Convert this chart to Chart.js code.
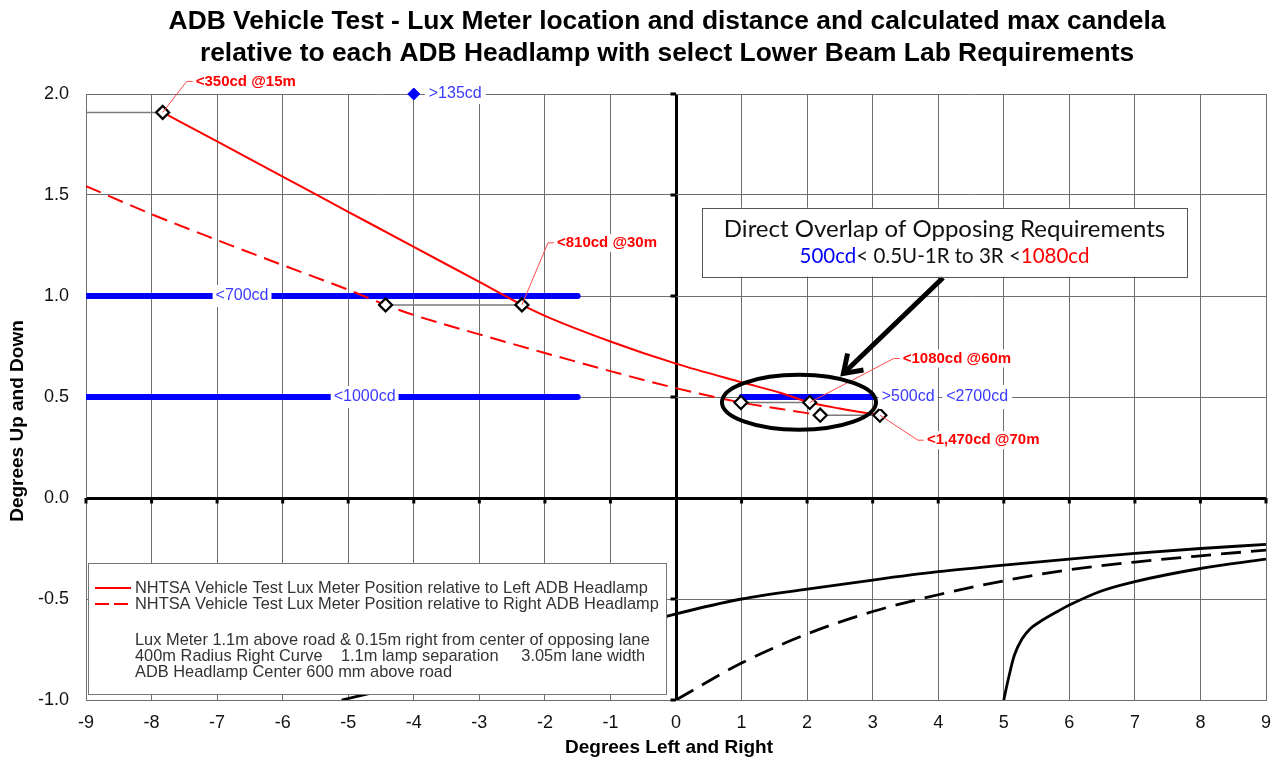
<!DOCTYPE html>
<html>
<head>
<meta charset="utf-8">
<title>ADB Vehicle Test - Lux Meter location</title>
<script src="https://cdn.jsdelivr.net/npm/chart.js@4.4.1/dist/chart.umd.min.js"></script>
<style>
  html, body { margin: 0; padding: 0; background: #fff; overflow: hidden; }
  #wrap { position: relative; width: 1279px; height: 762px; }
</style>
</head>
<body>
<div id="wrap"><canvas id="chart"></canvas></div>
<script>
// ---- axis ticks (degrees) ----
const xTickValues = [-9, -8, -7, -6, -5, -4, -3, -2, -1, 0, 1, 2, 3, 4, 5, 6, 7, 8, 9];
const yTickValues = [-1.0, -0.5, 0.0, 0.5, 1.0, 1.5, 2.0];

// ---- lux meter path relative to the left ADB headlamp (deg L/R, deg U/D) ----
const leftLampX = [-7.83, -7, -6, -5, -4, -3, -2.35, -2, -1, 0, 1, 1.6, 2.04, 2.5, 3.11];
const leftLampY = [1.909, 1.765, 1.591, 1.417, 1.243, 1.07, 0.956, 0.902, 0.775, 0.665, 0.573, 0.52, 0.473, 0.443, 0.41];

// ---- lux meter path relative to the right ADB headlamp ----
const rightLampX = [-9, -8, -7, -6, -5, -4.43, -4, -3, -2, -1, 0, 0.99, 1.6, 2.2];
const rightLampY = [1.544, 1.405, 1.277, 1.153, 1.031, 0.956, 0.906, 0.81, 0.718, 0.628, 0.544, 0.473, 0.441, 0.41];

// ---- measurement distances: meter position seen from each lamp ----
const meterDistances = ['15m', '30m', '60m', '70m'];
const meterMaxCd = ['<350cd', '<810cd', '<1080cd', '<1,470cd'];
const meterLeftX = [-7.83, -2.35, 2.04, 3.11];
const meterRightX = [-12.0, -4.43, 0.99, 2.2];
const meterY = [1.909, 0.956, 0.473, 0.41];

// ---- selected lower beam lab requirements ----
const reqSegText = ['<700cd', '<1000cd', '>500cd'];
const reqSegFromX = [-9, -9, 1];
const reqSegToX = [-1.5, -1.5, 3];
const reqSegY = [1.0, 0.5, 0.5];
const reqPointText = ['>135cd', '<2700cd'];
const reqPointX = [-4, 4.0];
const reqPointY = [2.0, 0.5];

// ---- black reference curves below the horizon ----
const curveAX = [-5.1, -4, -3, -2, -1, 0, 1, 2, 3, 4, 5, 6, 7, 8, 9];
const curveAY = [-1.0, -0.915, -0.835, -0.752, -0.664, -0.574, -0.5, -0.451, -0.406, -0.365, -0.332, -0.303, -0.274, -0.25, -0.23];
const curveBX = [0, 1, 2, 3, 4, 5, 6, 7, 8, 9];
const curveBY = [-1.0, -0.817, -0.673, -0.562, -0.479, -0.41, -0.355, -0.317, -0.286, -0.258];
const curveCX = [5, 5.07, 5.16, 5.28, 5.4, 5.54, 5.84, 6, 6.5, 7, 8, 9];
const curveCY = [-1.0, -0.895, -0.78, -0.697, -0.648, -0.615, -0.558, -0.53, -0.459, -0.414, -0.349, -0.303];

const legendText = [
  'NHTSA Vehicle Test Lux Meter Position relative to Left ADB Headlamp',
  'NHTSA Vehicle Test Lux Meter Position relative to Right ADB Headlamp'
];
const noteLines = [
  'Lux Meter 1.1m above road & 0.15m right from center of opposing lane',
  '400m Radius Right Curve    1.1m lamp separation     3.05m lane width',
  'ADB Headlamp Center 600 mm above road'
];

const ARIAL = 'Arial, "Liberation Sans", Helvetica, sans-serif';
const CALLOUT = 'Lato, "Open Sans", sans-serif';
const RED = '#ff0000';
const BLUE = '#0000ff';
const BLUE_TEXT = '#3a3aff';

const pts = (xs, ys) => xs.map((x, i) => ({ x, y: ys[i] }));

const datasets = [];
// meter pairs with diamond markers
meterDistances.forEach((d, i) => {
  datasets.push({
    label: 'Meter @' + d,
    data: [{ x: meterRightX[i], y: meterY[i] }, { x: meterLeftX[i], y: meterY[i] }],
    showLine: true, borderColor: '#7a7a7a', borderWidth: 1.5,
    pointStyle: 'rectRot', pointRadius: 6.5, pointBorderWidth: 2.2,
    pointBorderColor: '#000', pointBackgroundColor: '#fff', order: 0
  });
});
datasets.push({
  label: legendText[0], data: pts(leftLampX, leftLampY), showLine: true,
  borderColor: RED, borderWidth: 2, pointRadius: 0, cubicInterpolationMode: 'monotone', order: 1
});
datasets.push({
  label: legendText[1], data: pts(rightLampX, rightLampY), showLine: true,
  borderColor: RED, borderWidth: 2, borderDash: [16, 8], pointRadius: 0, cubicInterpolationMode: 'monotone', order: 1
});
reqSegText.forEach((t, i) => {
  datasets.push({
    label: t, data: [{ x: reqSegFromX[i], y: reqSegY[i] }, { x: reqSegToX[i], y: reqSegY[i] }],
    showLine: true, borderColor: BLUE, borderWidth: 6, borderCapStyle: 'round', pointRadius: 0, order: 2
  });
});
datasets.push({
  label: reqPointText[0], data: [{ x: reqPointX[0], y: reqPointY[0] }],
  pointStyle: 'rectRot', pointRadius: 6, pointBackgroundColor: BLUE, pointBorderColor: BLUE, clip: false, order: 0
});
datasets.push({
  label: reqPointText[1], data: [{ x: reqPointX[1], y: reqPointY[1] }], pointRadius: 0, order: 0
});
datasets.push({ label: 'A', data: pts(curveAX, curveAY), showLine: true, borderColor: '#000', borderWidth: 2.8, pointRadius: 0, cubicInterpolationMode: 'monotone', order: 3 });
datasets.push({ label: 'B', data: pts(curveBX, curveBY), showLine: true, borderColor: '#000', borderWidth: 2.8, borderDash: [20, 10], pointRadius: 0, cubicInterpolationMode: 'monotone', order: 3 });
datasets.push({ label: 'C', data: pts(curveCX, curveCY), showLine: true, borderColor: '#000', borderWidth: 2.8, pointRadius: 0, cubicInterpolationMode: 'monotone', order: 3 });

function boxedText(ctx, text, x, y, align, font, color, padX, h) {
  ctx.font = font;
  const w = ctx.measureText(text).width;
  const left = align === 'left' ? x : x - w / 2;
  ctx.fillStyle = '#fff';
  ctx.fillRect(left - padX, y - h / 2, w + 2 * padX, h);
  ctx.fillStyle = color;
  ctx.textAlign = 'left';
  ctx.textBaseline = 'middle';
  ctx.fillText(text, left, y);
}

// label / annotation layout
const layoutOpts = {
  segLabelX: [-6.62, -4.75, null],
  meterLeader: [[24, -31], [26, -62], [84, -44], [38, 25]],
  ellipse: { x: 1.876, y: 0.474, rx: 1.175, ry: 0.136 },
  callout: { x1: 0.397, y1: 1.437, x2: 7.795, y2: 1.096 },
  arrow: { fx: 4.073, fy: 1.09, tx: 2.532, ty: 0.61 },
  legendBox: { x1: -8.97, y1: -0.32, x2: -0.15, y2: -0.97 }
};

const overlay = {
  id: 'overlay',
  beforeDatasetsDraw(chart) {
    const { ctx, scales: { x, y } } = chart;
    const x0 = x.getPixelForValue(0), y0 = y.getPixelForValue(0);
    ctx.save();
    ctx.fillStyle = '#000';
    xTickValues.forEach(v => { if (v !== 0) ctx.fillRect(x.getPixelForValue(v) - 1.5, y0, 3, 5.5); });
    yTickValues.forEach(v => { if (v !== 0) ctx.fillRect(x0 - 5.5, y.getPixelForValue(v) - 1.5, 5.5, 3); });
    ctx.restore();
  },
  afterDatasetsDraw(chart) {
    const { ctx, scales: { x, y } } = chart;
    const X = v => x.getPixelForValue(v), Y = v => y.getPixelForValue(v);
    ctx.save();

    // red leader lines and max candela labels
    meterDistances.forEach((d, i) => {
      const mx = X(meterLeftX[i]), my = Y(meterY[i]);
      const [dx, dy] = layoutOpts.meterLeader[i];
      const ex = mx + dx, ey = my + dy;
      ctx.strokeStyle = '#ff4a4a';
      ctx.lineWidth = 1;
      ctx.beginPath();
      ctx.moveTo(mx, my); ctx.lineTo(ex, ey); ctx.lineTo(ex + 6, ey);
      ctx.stroke();
      boxedText(ctx, meterMaxCd[i] + ' @' + d, ex + 9, ey, 'left', 'bold 15px ' + ARIAL, RED, 2, 18);
    });

    // requirement labels
    reqSegText.forEach((t, i) => {
      const lx = layoutOpts.segLabelX[i];
      if (lx !== null) {
        boxedText(ctx, t, X(lx), Y(reqSegY[i]), 'center', '16px ' + ARIAL, BLUE_TEXT, 3, 22);
      } else {
        boxedText(ctx, t, X(reqSegToX[i]) + 9, Y(reqSegY[i]), 'left', '16px ' + ARIAL, BLUE_TEXT, 3, 24);
      }
    });
    boxedText(ctx, reqPointText[0], X(reqPointX[0]) + 15, Y(reqPointY[0]), 'left', '16px ' + ARIAL, BLUE_TEXT, 4, 20);
    boxedText(ctx, reqPointText[1], X(reqPointX[1]) + 8, Y(reqPointY[1]), 'left', '16px ' + ARIAL, BLUE_TEXT, 4, 24);

    // ellipse around the overlap region
    const el = layoutOpts.ellipse;
    const ecx = X(el.x), ecy = Y(el.y);
    const erx = X(el.x + el.rx) - ecx, ery = ecy - Y(el.y + el.ry);
    ctx.strokeStyle = '#000';
    ctx.lineWidth = 4;
    ctx.setLineDash([]);
    ctx.beginPath();
    ctx.ellipse(ecx, ecy, erx, ery, 0, 0, Math.PI * 2);
    ctx.stroke();

    // arrow from the callout to the ellipse
    const ar = layoutOpts.arrow;
    const fx = X(ar.fx), fy = Y(ar.fy), tx = X(ar.tx), ty = Y(ar.ty);
    const ang = Math.atan2(fy - ty, fx - tx);
    ctx.lineWidth = 5;
    ctx.lineJoin = 'miter';
    ctx.beginPath();
    ctx.moveTo(fx, fy); ctx.lineTo(tx + Math.cos(ang) * 3, ty + Math.sin(ang) * 3);
    ctx.stroke();
    ctx.beginPath();
    ctx.moveTo(tx + Math.cos(ang + 0.55) * 22, ty + Math.sin(ang + 0.55) * 22);
    ctx.lineTo(tx + Math.cos(ang) * 2, ty + Math.sin(ang) * 2);
    ctx.lineTo(tx + Math.cos(ang - 0.55) * 22, ty + Math.sin(ang - 0.55) * 22);
    ctx.stroke();

    // callout box
    const cb = layoutOpts.callout;
    const bx1 = X(cb.x1), by1 = Y(cb.y1), bx2 = X(cb.x2), by2 = Y(cb.y2);
    ctx.fillStyle = '#fff';
    ctx.fillRect(bx1, by1, bx2 - bx1, by2 - by1);
    ctx.strokeStyle = '#555';
    ctx.lineWidth = 1;
    ctx.strokeRect(Math.round(bx1) + 0.5, Math.round(by1) + 0.5, Math.round(bx2 - bx1), Math.round(by2 - by1));
    const bcx = (bx1 + bx2) / 2;
    ctx.textBaseline = 'middle';
    ctx.textAlign = 'center';
    ctx.fillStyle = '#111';
    ctx.font = '24px ' + CALLOUT;
    ctx.fillText('Direct Overlap of Opposing Requirements', bcx, by1 + 22);
    const parts = [['500cd', BLUE], ['< 0.5U-1R to 3R <', '#111'], ['1080cd', RED]];
    ctx.font = '20.5px ' + CALLOUT;
    const tw = parts.reduce((s, p) => s + ctx.measureText(p[0]).width, 0);
    let cx = bcx - tw / 2;
    ctx.textAlign = 'left';
    parts.forEach(p => { ctx.fillStyle = p[1]; ctx.fillText(p[0], cx, by1 + 49); cx += ctx.measureText(p[0]).width; });

    // legend box with notes
    const lb = layoutOpts.legendBox;
    const lx1 = Math.round(X(lb.x1)), ly1 = Math.round(Y(lb.y1)), lx2 = Math.round(X(lb.x2)), ly2 = Math.round(Y(lb.y2));
    ctx.fillStyle = '#fff';
    ctx.fillRect(lx1, ly1, lx2 - lx1, ly2 - ly1);
    ctx.strokeStyle = '#777';
    ctx.lineWidth = 1;
    ctx.strokeRect(lx1 + 0.5, ly1 + 0.5, lx2 - lx1, ly2 - ly1);
    ctx.strokeStyle = RED;
    ctx.lineWidth = 2;
    ctx.beginPath(); ctx.moveTo(lx1 + 7, ly1 + 25); ctx.lineTo(lx1 + 43, ly1 + 25); ctx.stroke();
    ctx.setLineDash([14, 5]);
    ctx.beginPath(); ctx.moveTo(lx1 + 7, ly1 + 41); ctx.lineTo(lx1 + 43, ly1 + 41); ctx.stroke();
    ctx.setLineDash([]);
    ctx.font = '16.4px ' + ARIAL;
    ctx.fillStyle = '#333';
    ctx.textAlign = 'left';
    ctx.textBaseline = 'middle';
    ctx.fillText(legendText[0], lx1 + 47, ly1 + 25);
    ctx.fillText(legendText[1], lx1 + 47, ly1 + 41);
    noteLines.forEach((t, i) => ctx.fillText(t, lx1 + 47, ly1 + 77 + i * 16));
    ctx.restore();
  },
  afterDraw(chart) {
    const { ctx } = chart;
    ctx.save();
    ctx.fillStyle = '#000';
    ctx.textAlign = 'center';
    ctx.textBaseline = 'middle';
    ctx.font = 'bold 26.4px ' + ARIAL;
    ctx.fillText('ADB Vehicle Test - Lux Meter location and distance and calculated max candela', 667, 22);
    ctx.fillText('relative to each ADB Headlamp with select Lower Beam Lab Requirements', 667, 54);
    ctx.font = 'bold 19px ' + ARIAL;
    ctx.fillText('Degrees Left and Right', 669, 748);
    ctx.translate(18, 421);
    ctx.rotate(-Math.PI / 2);
    ctx.fillText('Degrees Up and Down', 0, 0);
    ctx.restore();
  }
};

const gridColor = c => (c.tick && c.tick.value === 0 ? '#000' : '#6e6e6e');
const gridWidth = c => (c.tick && c.tick.value === 0 ? 3 : 1);

new Chart(document.getElementById('chart'), {
  type: 'scatter',
  data: { datasets },
  plugins: [overlay],
  options: {
    responsive: true,
    maintainAspectRatio: false,
    animation: false,
    events: [],
    layout: { padding: { top: 94, right: 13, left: 0, bottom: 0 } },
    plugins: { legend: { display: false }, title: { display: false }, tooltip: { enabled: false } },
    scales: {
      x: {
        type: 'linear', min: -9, max: 9,
        afterBuildTicks: s => { s.ticks = xTickValues.map(v => ({ value: v })); },
        afterFit: s => { s.height = 62; s.paddingLeft = 0; s.paddingRight = 0; },
        ticks: { color: '#111', font: { family: ARIAL, size: 18 }, padding: 12, maxRotation: 0, autoSkip: false, callback: v => String(v) },
        grid: { color: gridColor, lineWidth: gridWidth, drawTicks: false },
        border: { display: true, color: '#6e6e6e', width: 1 }
      },
      y: {
        type: 'linear', min: -1, max: 2,
        afterBuildTicks: s => { s.ticks = yTickValues.map(v => ({ value: v })); },
        afterFit: s => { s.width = 86; s.paddingTop = 0; s.paddingBottom = 0; },
        ticks: { color: '#111', font: { family: ARIAL, size: 18 }, padding: 17, callback: v => Number(v).toFixed(1) },
        grid: { color: gridColor, lineWidth: gridWidth, drawTicks: false },
        border: { display: true, color: '#6e6e6e', width: 1 }
      }
    }
  }
});
</script>
</body>
</html>
